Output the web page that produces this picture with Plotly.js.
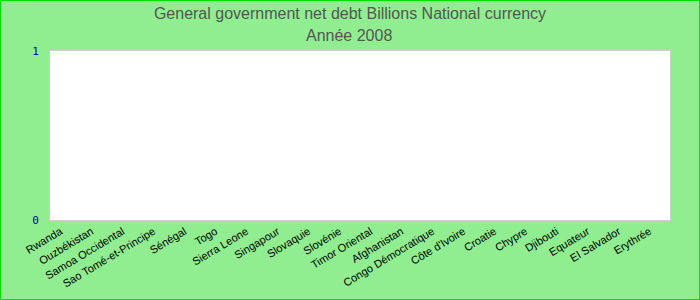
<!DOCTYPE html>
<html>
<head>
<meta charset="utf-8">
<script src="https://cdn.plot.ly/plotly-3.0.1.min.js"></script>
<style>
html,body{margin:0;padding:0;}
#wrap{position:relative;width:700px;height:300px;}
#chart{width:700px;height:300px;}
#frame{position:absolute;left:0;top:0;width:700px;height:300px;box-sizing:border-box;border:1px solid #00e000;pointer-events:none;}
</style>
</head>
<body>
<div id="wrap"><div id="chart"></div><div id="frame"></div></div>
<script>
var categories = ["Rwanda","Ouzbékistan","Samoa Occidental","Sao Tomé-et-Principe","Sénégal","Togo","Sierra Leone","Singapour","Slovaquie","Slovénie","Timor Oriental","Afghanistan","Congo Démocratique","Côte d'Ivoire","Croatie","Chypre","Djibouti","Equateur","El Salvador","Erythrée"];
var values = [0,0,0,0,0,0,0,0,0,0,0,0,0,0,0,0,0,0,0,0];
var yTickVals = [0,1];
var yTickText = ["0","1"];
var titleText = "General government net debt Billions National currency";
var subtitleText = "Année 2008";

var titleFont = {family: "Liberation Sans, Arial, sans-serif", size: 16, color: "#555555"};

Plotly.newPlot("chart", [{
  type: "bar",
  x: categories,
  y: values,
  marker: {color: "#4f81bd"},
  hoverinfo: "x+y"
}], {
  width: 700,
  height: 300,
  paper_bgcolor: "#90ee90",
  plot_bgcolor: "#ffffff",
  margin: {l: 50, r: 30, t: 51, b: 80},
  title: {
    text: titleText,
    font: titleFont,
    x: 0.5, xanchor: "center",
    yref: "container", y: 0.957, yanchor: "middle"
  },
  annotations: [{
    text: subtitleText,
    font: titleFont,
    xref: "paper", yref: "paper",
    x: 0.483, xanchor: "center",
    y: 1.089, yanchor: "middle",
    showarrow: false
  }],
  showlegend: false,
  xaxis: {
    type: "category",
    tickangle: -31,
    tickfont: {family: "Liberation Sans, Arial, sans-serif", size: 11, color: "#000000"},
    ticklabelshift: -5,
    showline: true, linecolor: "#d0d0d0", linewidth: 1, mirror: true,
    showgrid: false, ticks: "", automargin: false
  },
  yaxis: {
    range: [0, 1],
    tickvals: yTickVals,
    ticktext: yTickText,
    tickfont: {family: "DejaVu Sans Mono, monospace", size: 11, color: "#0000aa"},
    ticklabelstandoff: 8,
    showline: true, linecolor: "#d0d0d0", linewidth: 1, mirror: true,
    showgrid: false, zeroline: false, ticks: "", automargin: false
  }
}, {displayModeBar: false});
</script>
</body>
</html>
